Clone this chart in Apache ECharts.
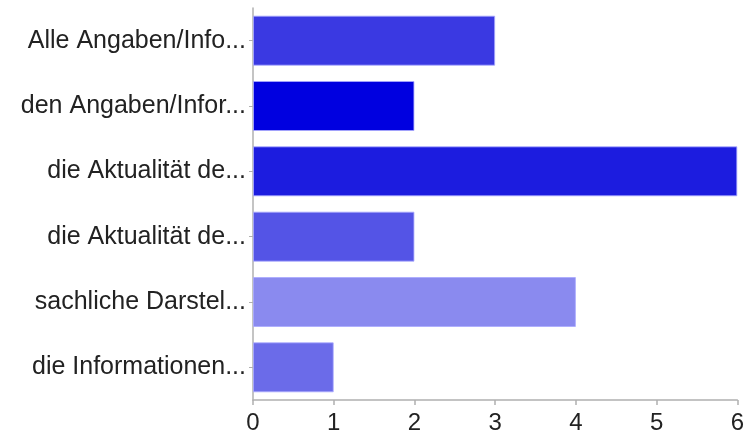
<!DOCTYPE html>
<html><head><meta charset="utf-8">
<script src="https://cdn.jsdelivr.net/npm/echarts@6/dist/echarts.min.js"></script>
<style>html,body{margin:0;padding:0;background:#fff}#c{width:747px;height:437px}</style>
</head><body><div id="c"></div>
<script>
const categories = ["Alle Angaben/Info...", "den Angaben/Infor...", "die Aktualität de...", "die Aktualität de...", "sachliche Darstel...", "die Informationen..."];
const values = [3, 2, 6, 2, 4, 1];
const barColors = ["#3a39e2", "#0000e0", "#1c1cdf", "#5454e6", "#8a8aef", "#6b6be9"];
const xTicks = [0, 1, 2, 3, 4, 5, 6];

const chart = echarts.init(document.getElementById('c'), null, {renderer: 'canvas'});
chart.setOption({
  animation: false,
  grid: {left: 253, right: 9, top: 8, bottom: 37, containLabel: false},
  xAxis: {
    type: 'value', min: xTicks[0], max: xTicks[xTicks.length - 1], interval: 1,
    axisLine: {show: true, lineStyle: {color: '#b0b0b0', width: 1.5}},
    axisTick: {show: true, length: 5, lineStyle: {color: '#b0b0b0', width: 1.5}},
    splitLine: {show: false},
    axisLabel: {color: '#222', fontSize: 24, fontFamily: 'Liberation Sans, Arial, sans-serif', margin: 11}
  },
  yAxis: {
    type: 'category', data: categories, inverse: true,
    axisLine: {show: true, lineStyle: {color: '#b0b0b0', width: 1.5}},
    axisTick: {show: true, length: 4, alignWithLabel: true, lineStyle: {color: '#b0b0b0'}},
    axisLabel: {color: '#222', fontSize: 25, fontFamily: 'Liberation Sans, Arial, sans-serif', margin: 7}
  },
  series: [{
    type: 'bar', barWidth: 50,
    data: values.map((v, i) => ({value: v, itemStyle: {color: barColors[i], borderColor: 'rgba(170,170,255,0.8)', borderWidth: 1}}))
  }]
});
</script></body></html>
